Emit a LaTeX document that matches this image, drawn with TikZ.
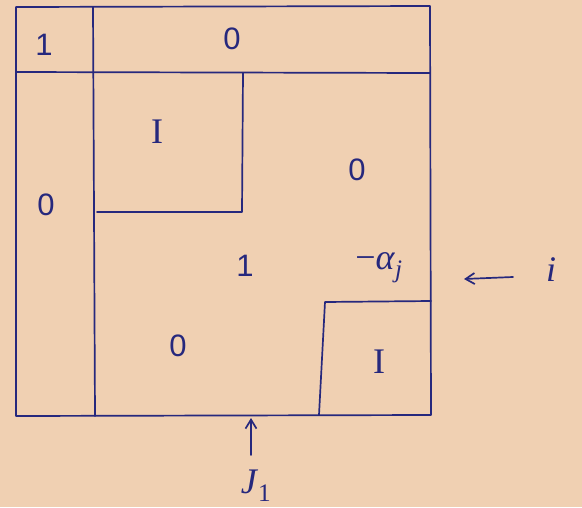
\documentclass[tikz,border=0pt]{standalone}
\usepackage{fontspec}
\setmainfont{Liberation Sans}
\newfontfamily\serifI{Liberation Serif}
\usetikzlibrary{arrows.meta}
\definecolor{ink}{RGB}{38,40,125}
\definecolor{paper}{RGB}{240,208,178}
\begin{document}
\begin{tikzpicture}[x=1pt,y=-1pt,
  ink/.style={draw=ink,line width=1.7pt,line join=round,line cap=round},
  lab/.style={text=ink,font=\fontsize{31}{34}\selectfont,inner sep=1pt},
  biglab/.style={text=ink,font=\fontsize{36}{40}\selectfont\serifI,inner sep=1pt},
  arr/.style={ink,-{Straight Barb[length=9pt,width=11pt,line width=1.7pt]}}]
\fill[paper] (0,0) rectangle (582,507);
\useasboundingbox (0,0) rectangle (582,507);
% outer box and dividers
\draw[ink] (16,7) -- (430,6) -- (431,415) -- (16,416) -- cycle;
\draw[ink] (93,7) -- (95,416);
\draw[ink] (17,72) -- (430,73);
% upper identity block
\draw[ink] (243,73) -- (242,212) -- (97,212);
% lower identity block
\draw[ink] (431,301) -- (325,302) -- (319,415);
% labels
\node[lab] (one1) at (44,45) {1};
\node[lab] (zeroTop) at (232,39) {0};
\node[biglab] (I1) at (157,132) {I};
\node[lab] (zeroL) at (46,205) {0};
\node[lab] (zeroR) at (357,170) {0};
\node[lab] (one2) at (245,266) {1};
\node[biglab] (alpha) at (379,268) {−\textit{α}\textsubscript{\textit{j}}};
\node[lab] (zeroB) at (178,346) {0};
\node[biglab] (I2) at (379,362) {I};
\node[biglab] (ilab) at (551,270) {\textit{i}};
\node[biglab] (Jlab) at (256,486) {\textit{J}\textsubscript{1}};
\coordinate (iA) at (513,277);
\coordinate (iB) at (464,279);
\coordinate (jA) at (251,455);
\coordinate (jB) at (251,418);
\draw[arr] (iA) -- (iB);
\draw[arr] (jA) -- (jB);
\end{tikzpicture}
\end{document}
